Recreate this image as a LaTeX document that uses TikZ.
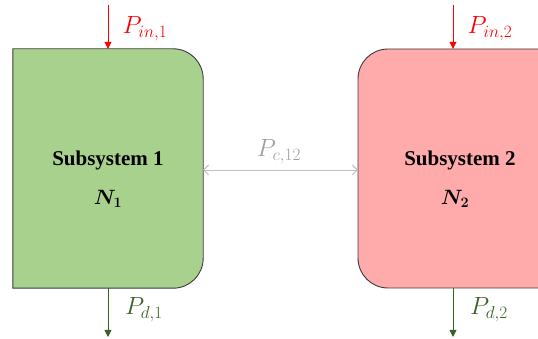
\documentclass[tikz,border=0pt]{standalone}
\usepackage{bm}
\usepackage{fontspec}
\setmainfont{Liberation Serif}
\usetikzlibrary{arrows.meta}
\definecolor{gfill}{HTML}{A9D18E}
\definecolor{pfill}{HTML}{FFABAB}
\definecolor{edge}{HTML}{3A3A3A}
\definecolor{pin}{HTML}{FF0000}
\definecolor{pd}{HTML}{3B6125}
\definecolor{pc}{HTML}{BFBFBF}
\definecolor{pclab}{HTML}{A0A0A0}
\tikzset{
  area/.style={minimum width=190pt, minimum height=239pt, inner sep=0pt, draw=none},
  boxline/.style={draw=edge, line width=0.9pt},
  title/.style={font=\bfseries\fontsize{21}{24}\selectfont, text=black},
  nlab/.style={font=\fontsize{22}{26}\selectfont, text=black},
  inarrow/.style={draw=pin, line width=0.9pt, -{Triangle[length=7pt,width=7pt]}},
  outarrow/.style={draw=pd, line width=0.9pt, -{Triangle[length=7pt,width=7pt]}},
  carrow/.style={draw=pc, line width=0.9pt, {Straight Barb[length=5pt,width=10pt]}-{Straight Barb[length=5pt,width=10pt]}},
  inlab/.style={text=pin, font=\fontsize{24}{28}\selectfont},
  outlab/.style={text=pd, font=\fontsize{24}{28}\selectfont},
  clab/.style={text=pclab, font=\fontsize{24}{28}\selectfont}
}
\begin{document}
\begin{tikzpicture}[x=1pt,y=1pt]
\useasboundingbox (0,0) rectangle (538,339);
\clip (0,0) rectangle (538,339);
% areas
\node[area] (b1) at (108,170.5) {};
\node[area] (b2) at (453,170.5) {};
% box shapes
\path[boxline, fill=gfill] (b1.south west) -- (b1.north west) -- ([xshift=-30pt]b1.north east)
  arc[start angle=90, end angle=0, radius=30pt] -- ([yshift=30pt]b1.south east)
  arc[start angle=0, end angle=-90, radius=30pt] -- cycle;
\path[boxline, fill=pfill] (560,290) -- (388,290)
  arc[start angle=90, end angle=180, radius=30pt] -- (358,81)
  arc[start angle=180, end angle=270, radius=30pt] -- (560,51);
% texts
\node[title] (t1) at (108,179) {Subsystem 1};
\node[nlab] (n1) at (108,140) {$\bm{N_1}$};
\node[title] (t2) at (460,179) {Subsystem 2};
\node[nlab] (n2) at (455,140) {$\bm{N_2}$};
% arrows
\coordinate (pin1) at (108,334);
\coordinate (pin2) at (453,334);
\coordinate (pd1) at (108,2);
\coordinate (pd2) at (453,2);
\draw[inarrow] (pin1) -- (pin1 |- b1.north);
\draw[inarrow] (pin2) -- (pin2 |- b2.north);
\draw[outarrow] (pd1 |- b1.south) -- (pd1);
\draw[outarrow] (pd2 |- b2.south) -- (pd2);
\coordinate (cl) at (203,169);
\coordinate (cr) at (358,169);
\draw[carrow] (cl) -- (cr);
% labels
\node[inlab] (lin1) at (145,310) {$P_{in,1}$};
\node[inlab] (lin2) at (490,310) {$P_{in,2}$};
\node[outlab] (ld1) at (144,29) {$P_{d,1}$};
\node[outlab] (ld2) at (489,29) {$P_{d,2}$};
\node[clab] (lc) at (279,187) {$P_{c,12}$};
\end{tikzpicture}
\end{document}
